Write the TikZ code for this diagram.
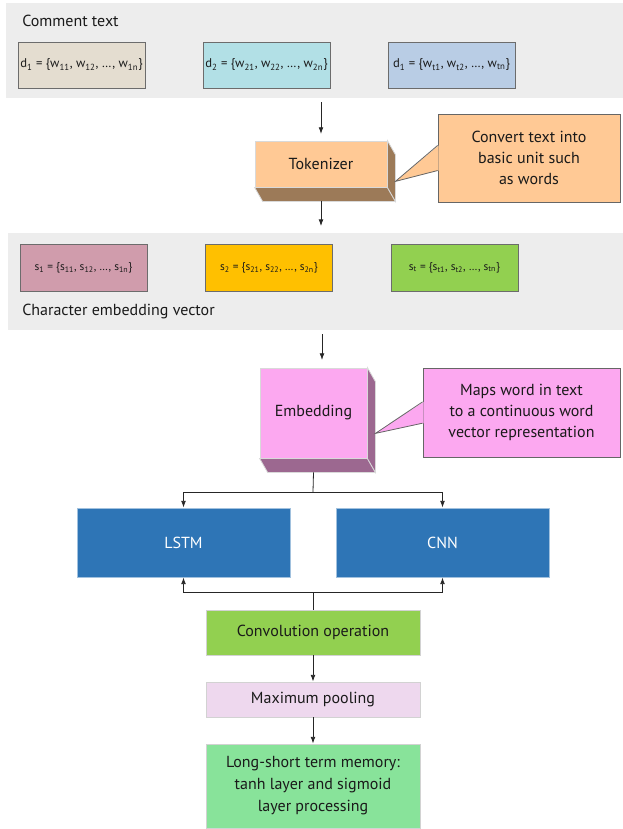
\documentclass[tikz,border=0pt]{standalone}
\usepackage{fontspec}
\setmainfont{PT Sans}
\usetikzlibrary{arrows.meta, positioning, calc}
\definecolor{bandgray}{HTML}{EDEDED}
\definecolor{docbeige}{HTML}{E4DDD0}
\definecolor{doccyan}{HTML}{B2E0E6}
\definecolor{docblue}{HTML}{B9CDE5}
\definecolor{vecmauve}{HTML}{D09CAC}
\definecolor{vecamber}{HTML}{FFC000}
\definecolor{vecgreen}{HTML}{92D050}
\definecolor{tokpeach}{HTML}{FFC995}
\definecolor{tokside}{HTML}{9C7A58}
\definecolor{embpink}{HTML}{FCA8F0}
\definecolor{embside}{HTML}{9C6890}
\definecolor{netblue}{HTML}{2E75B6}
\definecolor{poolpink}{HTML}{EED8EE}
\definecolor{lstmgreen}{HTML}{88E39A}
\definecolor{inkgray}{HTML}{1A1A1A}
\tikzset{
  cm band/.style={
    rectangle, fill=bandgray, draw=none, inner sep=0pt
  },
  cm label/.style={
    anchor=west, inner sep=0pt, text=inkgray,
    font=\fontsize{12}{16}\selectfont
  },
  cm doc/.style={
    rectangle, draw=gray!85!black, line width=0.7pt,
    minimum width=95.25pt, minimum height=34.5pt,
    inner sep=0pt, text=inkgray, font=\fontsize{9.5}{11}\selectfont
  },
  cm vec/.style={
    cm doc, minimum height=35.25pt, font=\fontsize{8.5}{10}\selectfont
  },
  cm cube/.style={
    rectangle, draw=gray!30, line width=0.6pt, inner sep=0pt,
    text=inkgray, font=\fontsize{12}{16}\selectfont
  },
  cm side/.style={
    draw=gray!30, line width=0.6pt
  },
  cm note/.style={
    rectangle, draw=gray!80!black, line width=0.6pt, inner sep=0pt,
    align=center, text=inkgray, font=\fontsize{12}{16}\selectfont
  },
  cm net/.style={
    rectangle, fill=netblue, draw=netblue!45!white, line width=0.7pt,
    minimum width=159.75pt, minimum height=51.75pt, inner sep=0pt,
    text=white, font=\fontsize{12}{16}\selectfont
  },
  cm step/.style={
    rectangle, draw=gray!35, line width=0.7pt,
    minimum width=160.5pt, inner sep=0pt, align=center,
    text=inkgray, font=\fontsize{12}{16.5}\selectfont
  },
  cm line/.style={
    draw=black!85, line width=0.6pt
  },
  cm arrow/.style={
    cm line, -{Latex[length=5pt, width=3.6pt]}
  }
}

\begin{document}
\begin{tikzpicture}[x=0.75pt, y=-0.75pt]
  \useasboundingbox (0,0) rectangle (623,829);

  % comment text band
  \node (band1) [cm band, minimum width=462.75pt, minimum height=71.25pt] at (314.5,50.5) {};
  \node (cmtxt) [cm label] at (22,21) {Comment text};
  \node (d1) [cm doc, fill=docbeige] at (81.5,65) {d\textsubscript{1} = \{w\textsubscript{11}, w\textsubscript{12}, \ldots, w\textsubscript{1n}\}};
  \node (d2) [cm doc, fill=doccyan] at (266.5,65) {d\textsubscript{2} = \{w\textsubscript{21}, w\textsubscript{22}, \ldots, w\textsubscript{2n}\}};
  \node (d3) [cm doc, fill=docblue] at (451.5,65) {d\textsubscript{1} = \{w\textsubscript{t1}, w\textsubscript{t2}, \ldots, w\textsubscript{tn}\}};

  % tokenizer
  \node (tok) [cm cube, fill=tokpeach, minimum width=99pt, minimum height=34.5pt] at (321,164) {Tokenizer};
  \filldraw [cm side, fill=tokside] (tok.south west) -- ++(6pt,-10.5pt) -- ($(tok.south east)+(6pt,-10.5pt)$) -- (tok.south east) -- cycle;
  \filldraw [cm side, fill=tokside] (tok.north east) -- ++(6pt,-10.5pt) -- ($(tok.south east)+(6pt,-10.5pt)$) -- (tok.south east) -- cycle;
  \node (toknote) [cm note, fill=tokpeach, minimum width=136.5pt, minimum height=66pt] at (529,158) {Convert text into\\basic unit such\\as words};
  \fill [tokpeach] ($(toknote.west)+(0.8pt,9.4pt)$) -- ($(tok.south east)+(6pt,4.5pt)$) -- ($(toknote.west)+(0.8pt,-9.4pt)$) -- cycle;
  \draw [cm line, draw=gray!80!black] ($(toknote.west)+(0,9.4pt)$) -- ($(tok.south east)+(6pt,4.5pt)$) -- ($(toknote.west)+(0,-9.4pt)$);

  % character embedding band
  \node (band2) [cm band, minimum width=461.25pt, minimum height=72.75pt] at (315.5,281.5) {};
  \node (s1) [cm vec, fill=vecmauve] at (83.5,267.5) {s\textsubscript{1} = \{s\textsubscript{11}, s\textsubscript{12}, \ldots, s\textsubscript{1n}\}};
  \node (s2) [cm vec, fill=vecamber] at (269,267.5) {s\textsubscript{2} = \{s\textsubscript{21}, s\textsubscript{22}, \ldots, s\textsubscript{2n}\}};
  \node (s3) [cm vec, fill=vecgreen] at (454.5,267.5) {s\textsubscript{t} = \{s\textsubscript{t1}, s\textsubscript{t2}, \ldots, s\textsubscript{tn}\}};
  \node (cevtxt) [cm label] at (22,311) {Character embedding vector};

  % embedding
  \node (emb) [cm cube, fill=embpink, minimum width=80.25pt, minimum height=67.5pt] at (313.5,413) {Embedding};
  \filldraw [cm side, fill=embside] (emb.south west) -- ++(6pt,-10.5pt) -- ($(emb.south east)+(6pt,-10.5pt)$) -- (emb.south east) -- cycle;
  \filldraw [cm side, fill=embside] (emb.north east) -- ++(6pt,-10.5pt) -- ($(emb.south east)+(6pt,-10.5pt)$) -- (emb.south east) -- cycle;
  \node (embnote) [cm note, fill=embpink, minimum width=147.75pt, minimum height=66.75pt] at (521.5,412.5) {Maps word in text\\to a continuous word\\vector representation};
  \fill [embpink] ($(embnote.west)+(0.8pt,8pt)$) -- ($(emb.south east)+(6pt,18.75pt)$) -- ($(embnote.west)+(0.8pt,-8pt)$) -- cycle;
  \draw [cm line, draw=gray!80!black] ($(embnote.west)+(0,8pt)$) -- ($(emb.south east)+(6pt,18.75pt)$) -- ($(embnote.west)+(0,-8pt)$);

  % networks
  \node (lstm) [cm net] at (183.5,542.5) {LSTM};
  \node (cnn) [cm net] at (442.5,542.5) {CNN};
  \coordinate (split) at (313,492);
  \coordinate (join) at (313,592);
  \coordinate (embin) at (322,368);

  % processing steps
  \node (conv) [cm step, fill=vecgreen, minimum height=33.75pt] at (313,632.5) {Convolution operation};
  \node (pool) [cm step, fill=poolpink, minimum height=26.25pt] at (313,699.5) {Maximum pooling};
  \node (mem) [cm step, fill=lstmgreen, minimum height=63pt] at (313,786) {Long-short term memory:\\tanh layer and sigmoid\\layer processing};

  \draw [cm arrow, shorten <=3pt, shorten >=5pt] (band1.south -| tok.north) -- (tok.north);
  \draw [cm arrow, shorten <=0pt, shorten >=5pt] ($(tok.south)+(0,-10pt)$) -- (band2.north -| tok.south);
  \draw [cm arrow, shorten <=3pt, shorten >=6pt] (band2.south -| embin) -- (embin);
  \draw [cm line] ($(emb.south)+(0,-10.5pt)$) -- (split);
  \draw [cm arrow] (split) -| (lstm.north);
  \draw [cm arrow] (split) -| (cnn.north);
  \draw [cm arrow] (join) -| (lstm.south);
  \draw [cm arrow] (join) -| (cnn.south);
  \draw [cm line] (join) -- (conv.north);
  \draw [cm arrow] (conv) -- (pool);
  \draw [cm arrow] (pool) -- (mem);
\end{tikzpicture}
\end{document}
